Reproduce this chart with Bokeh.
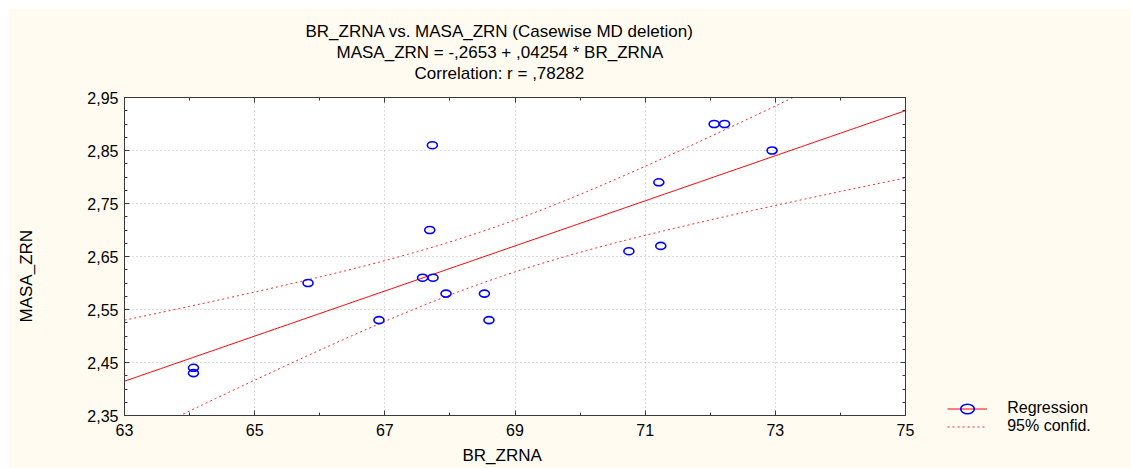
import numpy as np
from bokeh.plotting import figure
from bokeh.models import (ColumnDataSource, LinearAxis, FixedTicker, CustomJSTickFormatter,
                          Title, Legend, LegendItem, Range1d)
from bokeh.embed import file_html
from bokeh.resources import INLINE

# ---------------- data ----------------
title_lines = [
    "BR_ZRNA vs. MASA_ZRN (Casewise MD deletion)",
    "MASA_ZRN = -,2653 + ,04254 * BR_ZRNA",
    "Correlation: r = ,78282",
]
x_label = "BR_ZRNA"
y_label = "MASA_ZRN"
legend_labels = ["Regression", "95% confid."]

br_zrna = [64.06, 64.06, 65.82, 66.91, 67.58, 67.74, 67.69, 67.73, 67.94,
           68.53, 68.60, 70.75, 71.24, 71.21, 72.06, 72.22, 72.95]
masa_zrn = [2.44, 2.43, 2.60, 2.53, 2.61, 2.61, 2.70, 2.86, 2.58,
            2.58, 2.53, 2.66, 2.67, 2.79, 2.90, 2.90, 2.85]

intercept = -0.2653
slope = 0.04254
t_crit = 2.131  # t(0.975, n-2 = 15)

x_ticks = [63, 65, 67, 69, 71, 73, 75]
x_minor_ticks = [63, 64, 65, 66, 67, 68, 69, 70, 71, 72, 73, 74, 75]
y_ticks = [2.35, 2.45, 2.55, 2.65, 2.75, 2.85, 2.95]
y_minor_ticks = [round(2.35 + 0.025 * i, 3) for i in range(25)]

# ---------------- styling ----------------
FONT = "Liberation Sans"
BG = "#FFFBF0"
AXIS = "#3a3a3a"
RED = "#FF0000"
BLUE = "#0000FF"
TITLE_OFFSETS = [181, 212, 290]   # left offsets (px) so the lines centre like the original
XLABEL_OFFSET = 338
YLABEL_OFFSET = 93

# ---------------- derived lines ----------------
x = np.array(br_zrna)
y = np.array(masa_zrn)
n = len(x)
resid = y - (intercept + slope * x)
s = np.sqrt((resid ** 2).sum() / (n - 2))
xm = x.mean()
sxx = ((x - xm) ** 2).sum()
xs = np.linspace(x_ticks[0], x_ticks[-1], 241)
ys = intercept + slope * xs
hw = t_crit * s * np.sqrt(1.0 / n + (xs - xm) ** 2 / sxx)

pts = ColumnDataSource(dict(x=br_zrna, y=masa_zrn))
fit = ColumnDataSource(dict(x=xs, y=ys, lo=ys - hw, hi=ys + hw))

p = figure(frame_width=781, frame_height=318, margin=(8, 0, 0, 8),
           x_range=Range1d(x_ticks[0], x_ticks[-1]),
           y_range=Range1d(y_ticks[0], y_ticks[-1]),
           output_backend="svg", toolbar_location=None, title_location=None,
           min_border_left=116, min_border_right=76,
           min_border_top=89, min_border_bottom=53,
           background_fill_color="white", border_fill_color=BG,
           outline_line_color=AXIS, outline_line_width=1)

xt = FixedTicker(ticks=x_ticks, minor_ticks=x_minor_ticks)
yt = FixedTicker(ticks=y_ticks, minor_ticks=y_minor_ticks)
yfmt = CustomJSTickFormatter(code="return tick.toFixed(2).replace('.', ',');")
blank = CustomJSTickFormatter(code="return '';")


def style_axis(ax):
    ax.axis_line_color = AXIS
    ax.major_tick_line_color = AXIS
    ax.minor_tick_line_color = AXIS
    ax.major_tick_in = 5
    ax.major_tick_out = 0
    ax.minor_tick_in = 3
    ax.minor_tick_out = 0
    ax.major_label_text_font = FONT
    ax.major_label_text_font_size = "16px"
    ax.major_label_text_color = "black"


def spacer_axis(ticker, gap):
    return LinearAxis(ticker=ticker, formatter=blank, axis_line_color=None,
                      major_tick_line_color=None, minor_tick_line_color=None,
                      major_tick_in=0, major_tick_out=gap, minor_tick_in=0, minor_tick_out=0,
                      major_label_text_font_size="1px", major_label_standoff=0)


def text_title(text, off, size="17px"):
    return Title(text=text, align="left", offset=off, vertical_align="middle",
                 text_font=FONT, text_font_size=size, text_font_style="normal",
                 text_color="black", standoff=0)


xa = p.xaxis[0]
ya = p.yaxis[0]
style_axis(xa)
style_axis(ya)
xa.ticker = xt
ya.ticker = yt
ya.formatter = yfmt
xa.major_label_standoff = 8
ya.major_label_standoff = 6

# axis titles, placed like the original
p.add_layout(spacer_axis(xt, 6), "below")
p.add_layout(text_title(x_label, XLABEL_OFFSET), "below")
p.add_layout(spacer_axis(yt, 48), "left")
p.add_layout(text_title(y_label, YLABEL_OFFSET), "left")

# mirrored (label-less) axes on top and right
top_ax = LinearAxis(ticker=xt, formatter=blank)
right_ax = LinearAxis(ticker=yt, formatter=blank)
for ax in (top_ax, right_ax):
    style_axis(ax)
    ax.major_label_text_font_size = "1px"
    ax.major_label_standoff = 0
p.add_layout(top_ax, "above")
p.add_layout(right_ax, "right")

# invisible spacer between the plot and the title block
p.add_layout(spacer_axis(xt, 15), "above")

# title lines, stacked upward from the plot
for t, off in reversed(list(zip(title_lines, TITLE_OFFSETS))):
    tt = text_title(t, off)
    tt.vertical_align = "bottom"
    p.add_layout(tt, "above")

p.xgrid.ticker = xt
p.ygrid.ticker = yt
for g in (p.xgrid[0], p.ygrid[0]):
    g.grid_line_color = "#b8b8b8"
    g.grid_line_dash = "1 3"
    g.grid_line_width = 1

lo_r = p.line("x", "lo", source=fit, line_color=RED, line_width=1, line_dash="2 3", line_alpha=0.85)
hi_r = p.line("x", "hi", source=fit, line_color=RED, line_width=1, line_dash="2 3", line_alpha=0.85)
reg_r = p.line("x", "y", source=fit, line_color=RED, line_width=1)
pt_r = p.ellipse("x", "y", source=pts, width=10, height=7, width_units="screen",
                 height_units="screen", fill_color=None, line_color=BLUE, line_width=1.6)

legend = Legend(items=[LegendItem(label=legend_labels[0], renderers=[reg_r, pt_r]),
                       LegendItem(label=legend_labels[1], renderers=[hi_r])],
                location=(-188, -20), orientation="vertical",
                glyph_width=40, glyph_height=17, label_height=17, label_standoff=20,
                padding=0, margin=0, spacing=0,
                border_line_alpha=0, background_fill_alpha=0,
                label_text_font=FONT, label_text_font_size="16px",
                label_text_color="black")
p.add_layout(legend, "right")

open("out.html", "w").write(file_html(p, INLINE))
